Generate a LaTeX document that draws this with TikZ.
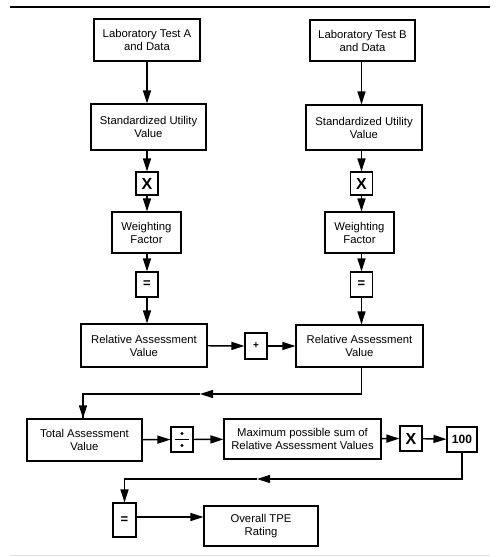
\documentclass[tikz,border=0pt]{standalone}
\usepackage{fontspec}
\setmainfont{Liberation Sans}
\usetikzlibrary{arrows.meta}
\begin{document}
\begin{tikzpicture}[x=1pt,y=-1pt,
  box/.style={draw,line width=1.1pt,inner sep=0pt,align=center,font=\fontsize{11.3}{13}\selectfont},
  opbox/.style={draw,line width=1.1pt,inner sep=0pt,minimum width=22pt,minimum height=24pt},
  arr/.style={line width=1.4pt,-{Triangle[length=13pt,width=8pt]}},
  ln/.style={line width=1.4pt}]
\useasboundingbox (0,0) rectangle (497,557);
\draw[line width=2.4pt] (10,7) -- (490,7);
\draw[line width=0.6pt,black!12] (10,555) -- (490,555);
% column A
\node[box,minimum width=106pt,minimum height=42pt] (a1) at (147,40) {Laboratory Test A\\and Data};
\node[box,minimum width=115pt,minimum height=46pt] (a2) at (148.5,127) {Standardized Utility\\Value};
\node[opbox,minimum height=23pt,font=\fontsize{16}{16}\selectfont\bfseries] (ax) at (147,183.5) {X};
\node[box,minimum width=69pt,minimum height=41pt] (aw) at (146.5,232.5) {Weighting\\Factor};
\node[opbox,minimum height=25pt,font=\fontsize{13}{13}\selectfont\bfseries] (ae) at (147,284.5) {=};
\node[box,minimum width=126pt,minimum height=43pt] (ar) at (144,345.5) {Relative Assessment\\Value};
% column B
\node[box,minimum width=105pt,minimum height=41pt] (b1) at (362.5,40.5) {Laboratory Test B\\and Data};
\node[box,minimum width=116pt,minimum height=45pt] (b2) at (364,127.5) {Standardized Utility\\Value};
\node[opbox,minimum height=23pt,font=\fontsize{16}{16}\selectfont\bfseries] (bx) at (361.5,183.5) {X};
\node[box,minimum width=69pt,minimum height=41pt] (bw) at (359.5,232.5) {Weighting\\Factor};
\node[opbox,minimum height=25pt,font=\fontsize{13}{13}\selectfont\bfseries] (be) at (361.5,284.5) {=};
\node[box,minimum width=127pt,minimum height=42pt] (br) at (359.5,346) {Relative Assessment\\Value};
\node[opbox,minimum height=26pt,font=\fontsize{10}{10}\selectfont\bfseries] (plus) at (256,346) {+};
% bottom rows
\node[box,minimum width=115pt,minimum height=42pt] (tot) at (84.5,440) {Total Assessment\\Value};
\node[opbox,minimum height=25pt] (div) at (182,439.5) {};
\fill (div.center) ++(0,-6) circle (1.6pt);
\fill (div.center) ++(0,6) circle (1.6pt);
\draw[line width=0.8pt] ([xshift=-7pt]div.center) -- ([xshift=7pt]div.center);
\node[box,minimum width=157pt,minimum height=40pt] (max) at (302.5,439) {Maximum possible sum of\\Relative Assessment Values};
\node[opbox,minimum height=25pt,font=\fontsize{16}{16}\selectfont\bfseries] (mx) at (411,438.5) {X};
\node[opbox,minimum width=30pt,minimum height=25pt,font=\fontsize{12}{12}\selectfont\bfseries] (hun) at (462,439.5) {100};
\node[opbox,minimum width=23pt,minimum height=34pt,font=\fontsize{13}{13}\selectfont\bfseries] (eq) at (124.5,520) {=};
\node[box,minimum width=114pt,minimum height=40pt] (ov) at (261,526) {Overall TPE\\Rating};
\coordinate (m1) at (200,394);
\coordinate (m2) at (257,479);
% connectors
\draw[arr] (a1) -- (a1 |- a2.north);
\draw[arr] (a2.south -| ax) -- (ax);
\draw[arr] (ax) -- (ax |- aw.north);
\draw[arr] (aw.south -| ae) -- (ae);
\draw[arr] (ae) -- (ae |- ar.north);
\draw[arr] (b1.south -| bx) -- (bx |- b2.north);
\draw[arr] (b2.south -| bx) -- (bx);
\draw[arr] (bx) -- (bx |- bw.north);
\draw[arr] (bw.south -| be) -- (be);
\draw[arr] (be) -- (be |- br.north);
\draw[arr] (ar) -- (plus);
\draw[arr] (plus) -- (plus -| br.west);
\draw[arr] (br.south -| be) |- (m1);
\draw[ln] (m1) -| ([xshift=-1.5pt]tot.north);
\draw[arr] ([xshift=-1.5pt]tot.north |- m1) -- ([xshift=-1.5pt]tot.north);
\draw[arr] (tot) -- (div);
\draw[arr] (div) -- (max);
\draw[arr] (max) -- (mx);
\draw[arr] (mx) -- (hun);
\draw[arr] (hun) |- (m2);
\draw[arr] (m2) -| (eq);
\draw[arr] ([yshift=3pt]eq.east) -- ([yshift=3pt]eq.east -| ov.west);
\end{tikzpicture}
\end{document}
